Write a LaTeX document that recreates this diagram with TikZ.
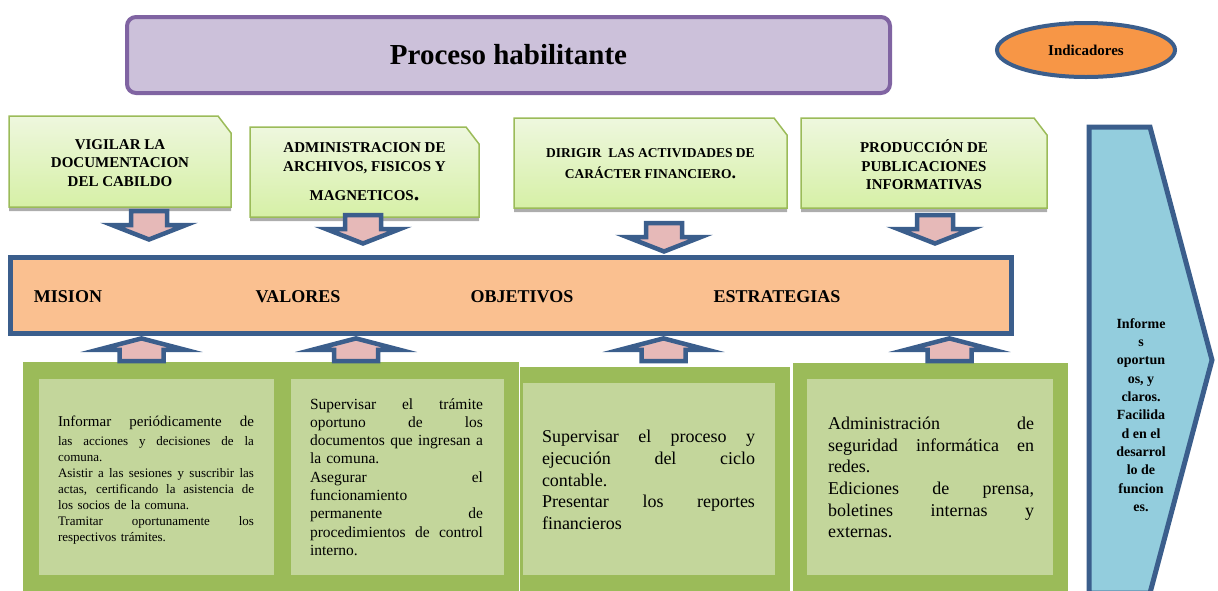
\documentclass[tikz,border=0pt]{standalone}
\usepackage{fontspec}
\setmainfont{Liberation Serif}
\usetikzlibrary{shapes.geometric,shadows}

\definecolor{lilac}{HTML}{CCC1DA}
\definecolor{plum}{HTML}{8064A2}
\definecolor{navy}{HTML}{3B5E8C}
\definecolor{peach}{HTML}{FAC090}
\definecolor{tang}{HTML}{F79646}
\definecolor{rose}{HTML}{E6B9B8}
\definecolor{olive}{HTML}{9BBB59}
\definecolor{sage}{HTML}{C3D69B}
\definecolor{sky}{HTML}{93CDDD}
\definecolor{limetop}{HTML}{EEF7DE}
\definecolor{limebot}{HTML}{D6F0A6}

% one justified line of fixed width
\newcommand{\jline}[2]{\makebox[#1][s]{\spaceskip=0pt\xspaceskip=0pt\relax #2}}

\begin{document}
\begin{tikzpicture}[
  x=1pt, y=-1pt,
  title/.style={draw=plum,line width=4pt,rounded corners=9pt,fill=lilac,
                minimum width=763pt,minimum height=76pt,
                font=\fontsize{29}{34}\selectfont\bfseries},
  ind/.style={ellipse,draw=navy,line width=4pt,fill=tang,minimum width=178pt,
              minimum height=54pt,font=\fontsize{15}{18}\selectfont\bfseries},
  topbox/.style={draw=olive,line width=1.5pt,top color=limetop,bottom color=limebot,
                 drop shadow={shadow xshift=0pt,shadow yshift=-4pt,fill=black!40,opacity=.8}},
  toptxt/.style={align=center,font=\fontsize{15}{18.5}\selectfont\bfseries},
  band/.style={draw=navy,line width=5pt,fill=peach,minimum width=1001pt,minimum height=76pt},
  bandtxt/.style={font=\fontsize{18}{22}\selectfont\bfseries},
  blk/.style={draw=navy,line width=4.5pt,fill=rose},
  outer/.style={fill=olive,anchor=north west,inner sep=0pt,minimum height=235pt},
  inner/.style={fill=sage,anchor=north west,inner sep=0pt},
  ptxt/.style={align=left,inner sep=0pt},
  downblk/.pic={\draw[blk] (-18,2) -- (18,2) -- (18,16) -- (37,16) -- (0,30.5) -- (-37,16) -- (-18,16) -- cycle;},
  upblk/.pic={\draw[blk] (0,2.4) -- (43.5,13.75) -- (22,13.75) -- (22,25) -- (-22,25) -- (-22,13.75) -- (-43.5,13.75) -- cycle;}
]
\useasboundingbox (0,0) rectangle (1218,590);

% header
\node[title] (proc) at (508.5,55) {Proceso habilitante};
\node[ind] (ind) at (1086,50) {Indicadores};

% top boxes
\draw[topbox] (9,116) -- (218,116) -- (231,133) -- (231,207) -- (9,207) -- cycle;
\draw[topbox] (250,127) -- (466,127) -- (479,144) -- (479,217) -- (250,217) -- cycle;
\draw[topbox] (514,118) -- (774,118) -- (787,135) -- (787,208) -- (514,208) -- cycle;
\draw[topbox] (801,118) -- (1034,118) -- (1047,135) -- (1047,208) -- (801,208) -- cycle;
\node[toptxt] (vig) at (120,163) {VIGILAR LA\\DOCUMENTACION\\DEL CABILDO};
\node[toptxt] (adm) at (364.5,172) {ADMINISTRACION DE\\ARCHIVOS, FISICOS Y\\[11pt]
  MAGNETICOS{\fontsize{22}{22}\selectfont.}};
\node[toptxt,font=\fontsize{13.5}{21}\selectfont\bfseries] (dir) at (650.5,163.5)
  {DIRIGIR\ \ LAS ACTIVIDADES DE\\CARÁCTER FINANCIERO{\fontsize{18}{18}\selectfont.}};
\node[toptxt] (prod) at (924,165) {PRODUCCIÓN DE\\PUBLICACIONES\\INFORMATIVAS};

\pic at (149,209) {downblk};
\pic at (363,213) {downblk};
\pic at (664,221) {downblk};
\pic at (935,213) {downblk};

% middle band
\node[band] (band) at (511,295.5) {};
\node[bandtxt] (mis) at (68,297) {MISION};
\node[bandtxt] (val) at (298,297) {VALORES};
\node[bandtxt] (obj) at (522,297) {OBJETIVOS};
\node[bandtxt] (est) at (777,297) {ESTRATEGIAS};

% bottom panels
\node[outer,minimum width=264pt] (o1) at (23,362) {};
\node[outer,minimum width=234pt] (o2) at (285,362) {};
\node[outer,minimum width=271pt,draw=white,line width=1pt] (o3) at (519,366) {};
\node[outer,minimum width=276pt,draw=white,line width=1pt] (o4) at (792,362) {};
\node[inner,minimum width=235pt,minimum height=196pt] (i1) at (39,379) {};
\node[inner,minimum width=213pt,minimum height=196pt] (i2) at (291,379) {};
\node[inner,minimum width=252pt,minimum height=192pt] (i3) at (523,383) {};
\node[inner,minimum width=246pt,minimum height=196pt] (i4) at (807,379) {};

\pic at (141.5,336) {upblk};
\pic at (356,336) {upblk};
\pic at (663.5,336) {upblk};
\pic at (949.5,336) {upblk};

\node[ptxt,text width=196pt,font=\fontsize{13}{16}\selectfont] (t1) at (156,480)
  {{\fontsize{15}{16}\selectfont\jline{196pt}{Informar periódicamente de}}\\[3pt]
   \jline{196pt}{las acciones y decisiones de la}\\
   comuna.\\
   \jline{196pt}{Asistir a las sesiones y suscribir las}\\
   \jline{196pt}{actas, certificando la asistencia de}\\
   los socios de la comuna.\\
   \jline{196pt}{Tramitar oportunamente los}\\
   respectivos trámites.};
\node[ptxt,text width=173pt,font=\fontsize{15.5}{18.3}\selectfont] (t2) at (396.5,477)
  {\jline{173pt}{Supervisar el trámite}\\
   \jline{173pt}{oportuno de los}\\
   \jline{173pt}{documentos que ingresan a}\\
   la comuna.\\
   \jline{173pt}{Asegurar el}\\
   funcionamiento\\
   \jline{173pt}{permanente de}\\
   \jline{173pt}{procedimientos de control}\\
   interno.};
\node[ptxt,text width=213pt,font=\fontsize{18}{21.6}\selectfont] (t3) at (648.5,480)
  {\jline{213pt}{Supervisar el proceso y}\\
   \jline{213pt}{ejecución del ciclo}\\
   contable.\\
   \jline{213pt}{Presentar los reportes}\\
   financieros};
\node[ptxt,text width=206pt,font=\fontsize{18}{21.7}\selectfont] (t4) at (931,477.5)
  {\jline{206pt}{Administración de}\\
   \jline{206pt}{seguridad informática en}\\
   redes.\\
   \jline{206pt}{Ediciones de prensa,}\\
   \jline{206pt}{boletines internas y}\\
   externas.};

% right chevron
\draw[draw=navy,line width=5pt,fill=sky] (1089,127) -- (1150,127) -- (1212,360)
  -- (1150,593) -- (1089,593) -- cycle;
\node[align=center,font=\fontsize{14}{18.3}\selectfont\bfseries] (inf) at (1141,415)
  {Informe\\s\\oportun\\os, y\\claros.\\Facilida\\d en el\\desarrol\\lo de\\funcion\\es.};
\end{tikzpicture}
\end{document}
